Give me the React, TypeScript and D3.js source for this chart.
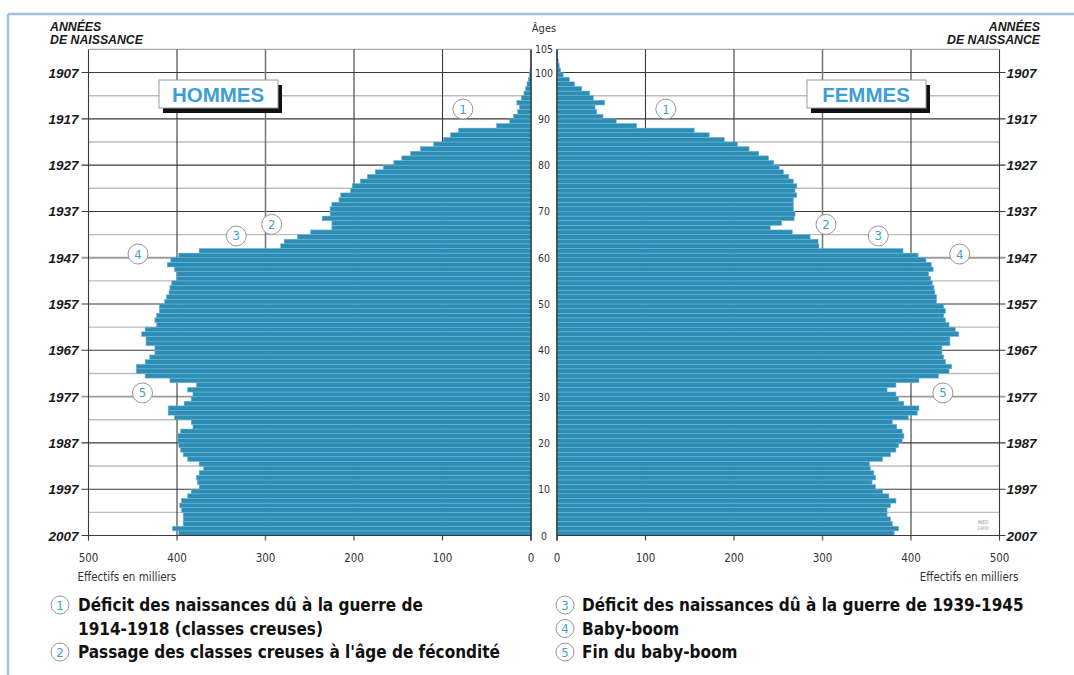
import React from "react";
import * as d3 from "d3";

// Population au 1er janvier 2008 (milliers), par âge 0..104
const maleValues = [
  398, 405, 393, 393, 393, 395, 397, 395, 388, 384,
  375, 377, 378, 375, 370, 375, 388, 393, 396, 398,
  399, 399, 396, 382, 384, 403, 410, 410, 392, 384,
  382, 388, 378, 408, 436, 446, 446, 436, 431, 425,
  425, 435, 435, 440, 436, 423, 425, 423, 420, 420,
  414, 412, 409, 408, 406, 400, 400, 403, 411, 407,
  398, 375, 283, 279, 264, 249, 225, 225, 236, 227,
  227, 225, 217, 215, 204, 202, 193, 185, 176, 167,
  155, 146, 136, 125, 110, 99, 91, 82, 39, 24,
  20, 15, 13, 16, 11, 8, 6, 4.5, 3, 2,
  1.2, 0.8, 0.5, 0.3, 0.2,
];

const femaleValues = [
  381, 386, 379, 377, 373, 373, 377, 383, 375, 368,
  360, 356, 360, 358, 354, 353, 368, 377, 383, 386,
  390, 392, 390, 384, 379, 397, 407, 409, 392, 386,
  383, 373, 383, 409, 431, 443, 446, 439, 437, 435,
  435, 444, 444, 454, 450, 443, 439, 437, 439, 437,
  429, 429, 427, 426, 424, 422, 420, 425, 423, 417,
  408, 391, 296, 295, 286, 266, 241, 254, 268, 269,
  267, 267, 267, 271, 269, 271, 267, 262, 256, 251,
  245, 239, 228, 217, 204, 189, 172, 155, 90, 67,
  52, 45, 43, 54, 41, 37, 28, 20, 14, 7,
  4, 2.5, 1.5, 0.8, 0.4,
];

const valueTicks = [0, 100, 200, 300, 400, 500];
const ageTicks = [0, 10, 20, 30, 40, 50, 60, 70, 80, 90, 100, 105];
const decadeAges = [0, 10, 20, 30, 40, 50, 60, 70, 80, 90, 100];
const halfDecadeAges = [5, 15, 25, 35, 45, 55, 65, 75, 85, 95];
const birthYears = ["2007", "1997", "1987", "1977", "1967", "1957", "1947", "1937", "1927", "1917", "1907"];
const highlightAges = [30, 60];

// repères numérotés : [numéro, valeur, âge]
const maleNotes: [string, number, number][] = [
  ["1", 77, 92.1], ["2", 293, 67.2], ["3", 333, 64.7], ["4", 444, 60.8], ["5", 439, 30.8],
];
const femaleNotes: [string, number, number][] = [
  ["1", 123, 92.1], ["2", 304, 67.2], ["3", 363, 64.7], ["4", 455, 60.8], ["5", 436, 30.8],
];

const legendLeft: [string, string[]][] = [
  ["1", ["Déficit des naissances dû à la guerre de", "1914-1918 (classes creuses)"]],
  ["2", ["Passage des classes creuses à l'âge de fécondité"]],
];
const legendRight: [string, string[]][] = [
  ["3", ["Déficit des naissances dû à la guerre de 1939-1945"]],
  ["4", ["Baby-boom"]],
  ["5", ["Fin du baby-boom"]],
];

const BAR = "#2c8db6";
const BLUE_TXT = "#3d9fd6";
const narrow = '"Liberation Sans Narrow", "DejaVu Sans Condensed", "Liberation Sans", sans-serif';
const heavy = '"Liberation Sans", Arial, sans-serif';

const Circle = ({ x, y, n, r = 10 }: { x: number; y: number; n: string; r?: number }) => (
  <g>
    <circle cx={x} cy={y} r={r} fill="#fff" stroke="#8a8a8a" strokeWidth={0.9} />
    <text x={x} y={y + 4.5} textAnchor="middle" fill={BLUE_TXT} fontFamily={narrow} fontSize={13}>
      {n}
    </text>
  </g>
);

const App: React.FC = () => {
  const width = 1074;
  const height = 675;

  const y = d3.scaleLinear().domain([0, 105]).range([535.5, 49.4]);
  const xL = d3.scaleLinear().domain([0, 500]).range([531, 88.5]);
  const xR = d3.scaleLinear().domain([0, 500]).range([557, 999.5]);
  const step = y(0) - y(1);

  const panel = (x: d3.ScaleLinear<number, number>, values: number[], notes: [string, number, number][], side: "L" | "R") => {
    const x0 = x(0);
    const x500 = x(500);
    const lo = Math.min(x0, x500);
    const hi = Math.max(x0, x500);
    const outer = side === "L" ? lo - 7 : hi + 6;
    return (
      <g>
        {/* lignes horizontales légères (5 ans) */}
        {halfDecadeAges.map((a) => (
          <line key={"h" + a} x1={lo} x2={hi} y1={y(a)} y2={y(a)} stroke="#bdbdbd" strokeWidth={1.4} />
        ))}
        <line x1={lo} x2={hi} y1={y(105)} y2={y(105)} stroke="#a8a8a8" strokeWidth={1.4} />
        {/* décennies */}
        {decadeAges.map((a) => (
          <line
            key={"d" + a}
            x1={side === "L" ? outer : lo}
            x2={side === "L" ? hi : outer}
            y1={y(a)}
            y2={y(a)}
            stroke={highlightAges.includes(a) ? "#9c9c9c" : "#3a3a3a"}
            strokeWidth={highlightAges.includes(a) ? 1.8 : 1.1}
          />
        ))}
        {/* verticales */}
        {valueTicks.map((v) => (
          <line
            key={"v" + v}
            x1={x(v)}
            x2={x(v)}
            y1={y(105)}
            y2={y(0) + 5}
            stroke={v === 300 ? "#7a7a7a" : "#3a3a3a"}
            strokeWidth={v === 300 ? 1.6 : 1.1}
          />
        ))}
        {/* barres */}
        {values.map((v, a) => (
          <rect
            key={"b" + a}
            x={Math.min(x(0), x(v))}
            y={y(a + 1)}
            width={Math.abs(x(v) - x(0))}
            height={step}
            fill={BAR}
            stroke="#74b6d2"
            strokeWidth={0.55}
          />
        ))}
        <line x1={x0} x2={x0} y1={y(105)} y2={y(0) + 5} stroke="#2a2a2a" strokeWidth={1.2} />
        <line x1={lo} x2={hi} y1={y(0)} y2={y(0)} stroke="#3a3a3a" strokeWidth={1.2} />
        {/* graduations */}
        {valueTicks.map((v) => (
          <text
            key={"t" + v}
            x={x(v)}
            y={562}
            textAnchor="middle"
            fontFamily={narrow}
            fontSize={11.5}
            fill="#333"
          >
            {v}
          </text>
        ))}
        <text
          x={side === "L" ? x(500) - 11 : x(500) + 19}
          y={581}
          textAnchor={side === "L" ? "start" : "end"}
          fontFamily={narrow}
          fontSize={11.5}
          fill="#333"
        >
          Effectifs en milliers
        </text>
        {/* années de naissance */}
        {decadeAges.map((a, i) => (
          <text
            key={"y" + a}
            x={side === "L" ? outer - 3 : outer + 1}
            y={y(a) + 5}
            textAnchor={side === "L" ? "end" : "start"}
            fontFamily={heavy}
            fontWeight={900}
            fontStyle="italic"
            fontSize={13.5}
            fill="#1a1a1a"
          >
            {birthYears[i]}
          </text>
        ))}
        {notes.map(([n, v, a]) => (
          <Circle key={"n" + n} x={x(v)} y={y(a)} n={n} />
        ))}
      </g>
    );
  };

  const titleBox = (cx: number, label: string) => (
    <g>
      <rect x={cx - 55} y={85} width={119} height={28} fill="#111" />
      <rect x={cx - 59} y={80} width={119} height={28} fill="#fff" stroke="#9a9a9a" strokeWidth={1} />
      <text x={cx} y={102} textAnchor="middle" fontFamily={heavy} fontWeight={700} fontSize={20.5} fill={BLUE_TXT}>
        {label}
      </text>
    </g>
  );

  return (
    <svg
      width={width}
      height={height}
      style={{ position: "absolute", left: 0, top: 0, background: "#fff" }}
    >
      {/* cadre */}
      <line x1={8} x2={width} y1={14} y2={14} stroke="#a3c1dd" strokeWidth={2.5} />
      <line x1={8} x2={8} y1={14} y2={height} stroke="#a3c1dd" strokeWidth={2.5} />

      {/* en-têtes */}
      <text fontFamily={heavy} fontWeight={900} fontStyle="italic" fontSize={12.3} fill="#1a1a1a">
        <tspan x={50} y={31}>ANNÉES</tspan>
        <tspan x={50} y={44}>DE NAISSANCE</tspan>
      </text>
      <text fontFamily={heavy} fontWeight={900} fontStyle="italic" fontSize={12.3} fill="#1a1a1a" textAnchor="end">
        <tspan x={1040} y={31}>ANNÉES</tspan>
        <tspan x={1040} y={44}>DE NAISSANCE</tspan>
      </text>
      <text x={544} y={32} textAnchor="middle" fontFamily={narrow} fontSize={11} fill="#333">
        Âges
      </text>

      {panel(xL, maleValues, maleNotes, "L")}
      {panel(xR, femaleValues, femaleNotes, "R")}

      {/* âges au centre */}
      {ageTicks.map((a) => (
        <text key={"a" + a} x={544} y={y(a) + 4} textAnchor="middle" fontFamily={narrow} fontSize={10.5} fill="#333">
          {a}
        </text>
      ))}

      {titleBox(218, "HOMMES")}
      {titleBox(866, "FEMMES")}

      {/* logo INED */}
      <g fontFamily={narrow} fontSize={5} fill="#9a9a9a" textAnchor="middle">
        <text x={983} y={524}>INED</text>
        <text x={983} y={530}>1400</text>
      </g>

      {/* légende */}
      {legendLeft.map(([n, lines], i) => (
        <g key={"ll" + n}>
          <Circle x={60} y={i === 0 ? 605 : 652} n={n} r={9} />
          {lines.map((l, j) => (
            <text
              key={j}
              x={78}
              y={(i === 0 ? 611 : 658) + j * 24}
              fontFamily={narrow}
              fontWeight={700}
              fontSize={17}
              fill="#111"
            >
              {l}
            </text>
          ))}
        </g>
      ))}
      {legendRight.map(([n, lines], i) => (
        <g key={"lr" + n}>
          <Circle x={565} y={605 + i * 23.5} n={n} r={9} />
          <text x={582} y={611 + i * 23.5} fontFamily={narrow} fontWeight={700} fontSize={17} fill="#111">
            {lines[0]}
          </text>
        </g>
      ))}
    </svg>
  );
};

export default App;
